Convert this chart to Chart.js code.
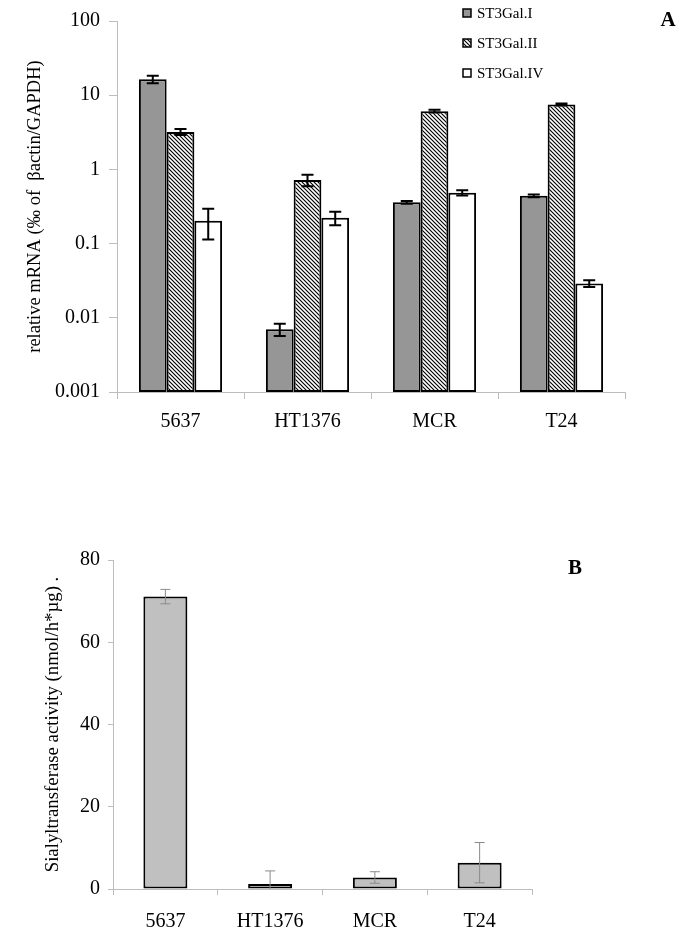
<!DOCTYPE html>
<html><head><meta charset="utf-8">
<script src="https://cdn.jsdelivr.net/npm/chart.js@4/dist/chart.umd.min.js"></script>
<style>
html,body{margin:0;padding:0;background:#fff;}
canvas{position:absolute;left:0;}
#ca{top:0;}
#cb{top:540px;}
</style></head><body>
<canvas id="ca" width="685" height="445"></canvas>
<canvas id="cb" width="685" height="412"></canvas>
<script>
// ---- data ----
const cellLines = ['5637', 'HT1376', 'MCR', 'T24'];
const seriesNames = ['ST3Gal.I', 'ST3Gal.II', 'ST3Gal.IV'];
const st3galI = [16.4, 0.0070, 0.36, 0.44];
const st3galIErr = [1.9, 0.0013, 0.015, 0.02];
const st3galII = [3.2, 0.72, 6.1, 7.5];
const st3galIIErr = [0.3, 0.125, 0.25, 0.25];
const st3galIV = [0.204, 0.223, 0.485, 0.029];
const st3galIVErr = [0.09, 0.046, 0.04, 0.003];
const logTickValues = [0.001, 0.01, 0.1, 1, 10, 100];
const logTickLabels = ['0.001', '0.01', '0.1', '1', '10', '100'];
const activity = [71.1, 1.2, 2.8, 6.4];
const activityErr = [1.75, 3.2, 1.4, 4.9];
const activityTicks = [0, 20, 40, 60, 80];

// ---- helpers ----
const SERIF = 'Liberation Serif';
const AXIS = '#bdbdbd';

function hatchPattern() {
  const s = 4;
  const c = document.createElement('canvas');
  c.width = s; c.height = s;
  const x = c.getContext('2d');
  x.fillStyle = '#fff'; x.fillRect(0, 0, s, s);
  x.strokeStyle = '#000'; x.lineWidth = 1.15;
  x.beginPath();
  x.moveTo(-1, -1); x.lineTo(s + 1, s + 1);
  x.moveTo(-1, s - 1); x.lineTo(1, s + 1);
  x.moveTo(s - 1, -1); x.lineTo(s + 1, 1);
  x.stroke();
  return x.createPattern(c, 'repeat');
}

const errorBars = {
  id: 'errorBars',
  afterDatasetsDraw(chart, args, o) {
    const ctx = chart.ctx, ys = chart.scales.y, a = chart.chartArea;
    ctx.save();
    ctx.beginPath();
    ctx.rect(a.left, a.top - 20, a.right - a.left, a.bottom - a.top + 20);
    ctx.clip();
    ctx.strokeStyle = o.color; ctx.lineWidth = o.width;
    chart.data.datasets.forEach((ds, i) => {
      const meta = chart.getDatasetMeta(i);
      meta.data.forEach((bar, j) => {
        const v = ds.data[j], e = ds.errors[j];
        const hi = ys.getPixelForValue(v + e);
        const lo = (v - e) > 0 || ys.type !== 'logarithmic' ? ys.getPixelForValue(v - e) : a.bottom;
        const cx = bar.x, h = o.cap / 2;
        ctx.beginPath();
        ctx.moveTo(cx, hi); ctx.lineTo(cx, lo);
        ctx.moveTo(cx - h, hi); ctx.lineTo(cx + h, hi);
        ctx.moveTo(cx - h, lo); ctx.lineTo(cx + h, lo);
        ctx.stroke();
      });
    });
    ctx.restore();
  }
};

const boxLegend = {
  id: 'boxLegend',
  afterDraw(chart, args, o) {
    if (!o || !o.show) return;
    const ctx = chart.ctx;
    ctx.save();
    chart.data.datasets.forEach((ds, i) => {
      const y = o.y + i * o.gap;
      ctx.fillStyle = ds.backgroundColor;
      ctx.fillRect(o.x, y - 4, 8, 8);
      ctx.strokeStyle = '#000'; ctx.lineWidth = 1.5;
      ctx.strokeRect(o.x, y - 4, 8, 8);
      ctx.fillStyle = '#000';
      ctx.font = '15px "' + SERIF + '"';
      ctx.textBaseline = 'middle'; ctx.textAlign = 'left';
      ctx.fillText(ds.label, o.x + 14, y + 1);
    });
    ctx.restore();
  }
};

const panelLetter = {
  id: 'panelLetter',
  afterDraw(chart, args, o) {
    const ctx = chart.ctx;
    ctx.save();
    ctx.fillStyle = '#000';
    ctx.font = 'bold 21px "' + SERIF + '"';
    ctx.textAlign = 'center'; ctx.textBaseline = 'middle';
    ctx.fillText(o.text, o.x, o.y);
    ctx.restore();
  }
};

const tickFont = { family: SERIF, size: 20 };

// ---- panel A ----
new Chart(document.getElementById('ca'), {
  type: 'bar',
  data: {
    labels: cellLines,
    datasets: [
      { label: seriesNames[0], data: st3galI, errors: st3galIErr, backgroundColor: '#969696' },
      { label: seriesNames[1], data: st3galII, errors: st3galIIErr, backgroundColor: hatchPattern() },
      { label: seriesNames[2], data: st3galIV, errors: st3galIVErr, backgroundColor: '#ffffff' }
    ]
  },
  options: {
    responsive: false, animation: false, devicePixelRatio: 1,
    layout: { padding: { top: 21, right: 60, left: 0, bottom: 0 } },
    datasets: { bar: { borderColor: '#000', borderWidth: 2, borderSkipped: false, categoryPercentage: 0.655, barPercentage: 1 } },
    plugins: {
      legend: { display: false }, tooltip: { enabled: false },
      errorBars: { color: '#000', width: 2, cap: 12 },
      boxLegend: { show: true, x: 463, y: 13, gap: 30 },
      panelLetter: { text: 'A', x: 668, y: 21 }
    },
    scales: {
      x: {
        offset: true,
        grid: { offset: true, drawOnChartArea: false, tickLength: 7, color: AXIS },
        border: { color: AXIS },
        ticks: { color: '#000', font: tickFont, padding: 11, maxRotation: 0 },
        afterFit: s => { s.height = 53; }
      },
      y: {
        type: 'logarithmic', min: 0.001, max: 100,
        afterBuildTicks: s => { s.ticks = logTickValues.map(v => ({ value: v })); },
        afterFit: s => { s.width = 117; },
        grid: { drawOnChartArea: false, tickLength: 8, color: AXIS },
        border: { color: AXIS },
        ticks: {
          color: '#000', font: tickFont, padding: 9, autoSkip: false,
          callback: v => { const k = logTickValues.indexOf(v); return k >= 0 ? logTickLabels[k] : ''; }
        },
        title: { display: true, text: 'relative mRNA (‰ of  βactin/GAPDH)', color: '#000', font: { family: SERIF, size: 18.5 }, padding: { top: 24, bottom: 0 } }
      }
    }
  },
  plugins: [errorBars, boxLegend, panelLetter]
});

// ---- panel B ----
new Chart(document.getElementById('cb'), {
  type: 'bar',
  data: {
    labels: cellLines,
    datasets: [
      { label: 'activity', data: activity, errors: activityErr, backgroundColor: '#c0c0c0' }
    ]
  },
  options: {
    responsive: false, animation: false, devicePixelRatio: 1,
    layout: { padding: { top: 20, right: 153, left: 0, bottom: 0 } },
    datasets: { bar: { borderColor: '#000', borderWidth: 2, borderSkipped: false, categoryPercentage: 1, barPercentage: 0.42 } },
    plugins: {
      legend: { display: false }, tooltip: { enabled: false },
      errorBars: { color: '#8a8a8a', width: 1, cap: 10 },
      boxLegend: { show: false },
      panelLetter: { text: 'B', x: 575, y: 29 }
    },
    scales: {
      x: {
        offset: true,
        grid: { offset: true, drawOnChartArea: false, tickLength: 6, color: AXIS },
        border: { color: AXIS },
        ticks: { color: '#000', font: tickFont, padding: 15, maxRotation: 0 },
        afterFit: s => { s.height = 63; }
      },
      y: {
        min: 0, max: 80,
        afterBuildTicks: s => { s.ticks = activityTicks.map(v => ({ value: v })); },
        afterFit: s => { s.width = 113; },
        grid: { drawOnChartArea: false, tickLength: 5, color: AXIS },
        border: { color: AXIS },
        ticks: { color: '#000', font: tickFont, padding: 8 },
        title: { display: true, text: 'Sialyltransferase activity (nmol/h*µg) .', color: '#000', font: { family: SERIF, size: 18.8 }, padding: { top: 42, bottom: 0 } }
      }
    }
  },
  plugins: [errorBars, boxLegend, panelLetter]
});
</script>
</body></html>
